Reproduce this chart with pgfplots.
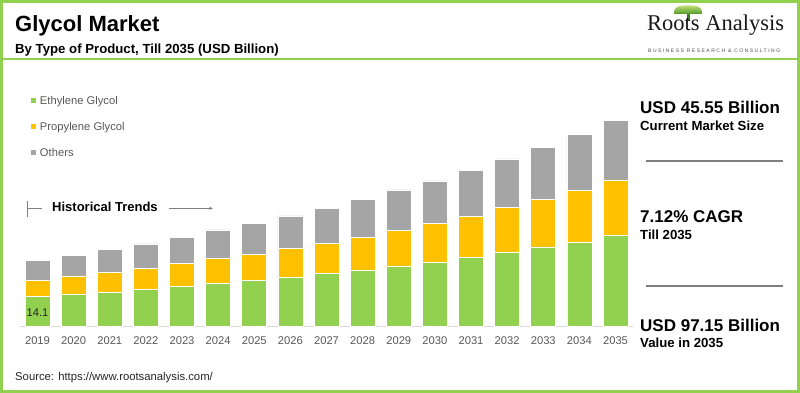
\documentclass[border=0pt]{standalone}
\usepackage{pgfplots}
\pgfplotsset{compat=1.18}
\usepackage{pgfplotstable}
\usepackage{fontspec}
\setmainfont{Liberation Sans}
\newfontfamily\logofont{Liberation Serif}
\newfontfamily\tagfont[LetterSpace=30]{Liberation Sans}
\usetikzlibrary{arrows.meta}
\definecolor{eg}{HTML}{92D050}
\definecolor{pg}{HTML}{FFC000}
\definecolor{ot}{HTML}{A5A5A5}
\definecolor{frame}{HTML}{92D050}
\definecolor{lbl}{HTML}{595959}
\definecolor{axl}{HTML}{D9D9D9}
\definecolor{dline}{HTML}{7F7F7F}
\definecolor{treetop}{HTML}{C9E27C}
\definecolor{treebot}{HTML}{4E9A28}

\pgfplotstableread{
i  eg     pg     ot
0  14.15  7.87   9.43
1  15.42  8.49   9.90
2  16.36  9.29   10.85
3  17.64  9.90   11.46
4  19.05  10.85  12.26
5  20.47  11.79  13.35
6  21.88  12.26  14.76
7  23.30  13.68  15.23
8  25.18  14.15  16.51
9  26.74  15.42  17.92
10 28.63  16.84  19.01
11 30.37  18.39  19.95
12 32.73  19.34  21.69
13 34.90  21.22  22.97
14 37.59  22.50  24.52
15 39.80  24.52  26.41
16 42.92  26.27  27.97
}\data

\begin{document}
\begin{tikzpicture}[x=1pt,y=1pt]
\useasboundingbox (0,0) rectangle (800,393);
\fill[white] (0,0) rectangle (800,393);

% header
\node[anchor=base west, inner sep=0pt, font=\fontsize{22}{26}\selectfont\bfseries] at (15,361.3) {Glycol Market};
\node[anchor=base west, inner sep=0pt, font=\fontsize{13.2}{16}\selectfont\bfseries] at (15,339.5) {By Type of Product, Till 2035 (USD Billion)};

% logo
\fill[treebot!80!black] (687,371.5) rectangle (689.5,379);
\shade[top color=treetop, bottom color=treebot] (674,379) .. controls (674,388) and (680,387.5) .. (688,387.5) .. controls (696,387.5) and (702,388) .. (702,379) -- cycle;
\node[anchor=base west, inner sep=0pt, font=\logofont\fontsize{22.5}{26}\selectfont, text=black!90] at (647,362) {Roots Analysis};
\node[anchor=base west, inner sep=0pt, font=\tagfont\fontsize{5}{6}\selectfont, text=black!70] at (648,340.3) {BUSINESS RESEARCH \& CONSULTING};

% historical trends
\draw[dline, line width=0.7pt] (27,192.3) -- (27,176.3);
\draw[dline, line width=0.7pt] (27,185) -- (42,185);
\draw[dline, line width=0.7pt, -{Stealth[length=4pt,width=3pt]}] (169,184.7) -- (213,184.7);
\node[anchor=base west, inner sep=0pt, font=\fontsize{13}{16}\selectfont\bfseries] at (52,181.6) {Historical Trends};

% right panel
\node[anchor=base west, inner sep=0pt, font=\fontsize{17}{20}\selectfont\bfseries] at (640,279.2) {USD 45.55 Billion};
\node[anchor=base west, inner sep=0pt, font=\fontsize{13.2}{16}\selectfont\bfseries] at (640,262.6) {Current Market Size};
\draw[dline, line width=2pt] (646,232.3) -- (783,232.3);
\node[anchor=base west, inner sep=0pt, font=\fontsize{17}{20}\selectfont\bfseries] at (640,170.2) {7.12\% CAGR};
\node[anchor=base west, inner sep=0pt, font=\fontsize{13.2}{16}\selectfont\bfseries] at (640,153.3) {Till 2035};
\draw[dline, line width=2pt] (646,107) -- (783,107);
\node[anchor=base west, inner sep=0pt, font=\fontsize{17}{20}\selectfont\bfseries] at (640,61.9) {USD 97.15 Billion};
\node[anchor=base west, inner sep=0pt, font=\fontsize{13.2}{16}\selectfont\bfseries] at (640,45) {Value in 2035};

% source
\node[anchor=base west, inner sep=0pt, font=\fontsize{11.3}{14}\selectfont, text=black!85] at (15,12) {Source: https://www.rootsanalysis.com/};

\begin{axis}[
  at={(20pt,66.3pt)}, anchor=south west,
  scale only axis, width=613pt, height=212.05pt,
  xmin=-0.4844, xmax=16.484, ymin=0, ymax=100,
  ybar stacked, bar width=25pt,
  axis x line*=bottom, axis y line=none,
  axis line style={draw=axl, line width=1.3pt},
  xtick={0,...,16},
  xticklabels={2019,2020,2021,2022,2023,2024,2025,2026,2027,2028,2029,2030,2031,2032,2033,2034,2035},
  major tick length=0pt,
  xticklabel style={anchor=north, inner sep=0pt, yshift=-9.3pt, font=\fontsize{11.2}{13}\selectfont, text=lbl},
  clip=false,
  legend style={at={(axis description cs:0.01876,1.084)}, anchor=north west, draw=none, fill=none,
    inner sep=0pt, outer sep=0pt, row sep=18pt, font=\fontsize{11.2}{13}\selectfont, text=lbl,
    nodes={inner sep=0pt, text height=8pt, text depth=0pt},
    /tikz/every odd column/.style={column sep=3.5pt}},
  legend cell align=left,
  legend image code/.code={\fill[#1,draw=none] (0pt,-2.5pt) rectangle (5pt,2.5pt);},
  every axis plot/.append style={draw=white, line width=0.6pt},
]
\addplot[fill=eg] table[x=i,y=eg] {\data};
\addlegendentry{Ethylene Glycol}
\addplot[fill=pg] table[x=i,y=pg] {\data};
\addlegendentry{Propylene Glycol}
\addplot[fill=ot] table[x=i,y=ot] {\data};
\addlegendentry{Others}
\coordinate (lab) at (axis cs:0,6.6);
\end{axis}
\node[font=\fontsize{11.2}{13}\selectfont, text=black!85, inner sep=0pt] at (lab) {14.1};

% frame
\draw[frame, line width=3pt] (1.5,1.5) rectangle (798.5,391.5);
\draw[frame, line width=2pt] (0,333.5) -- (800,333.5);
\end{tikzpicture}
\end{document}
